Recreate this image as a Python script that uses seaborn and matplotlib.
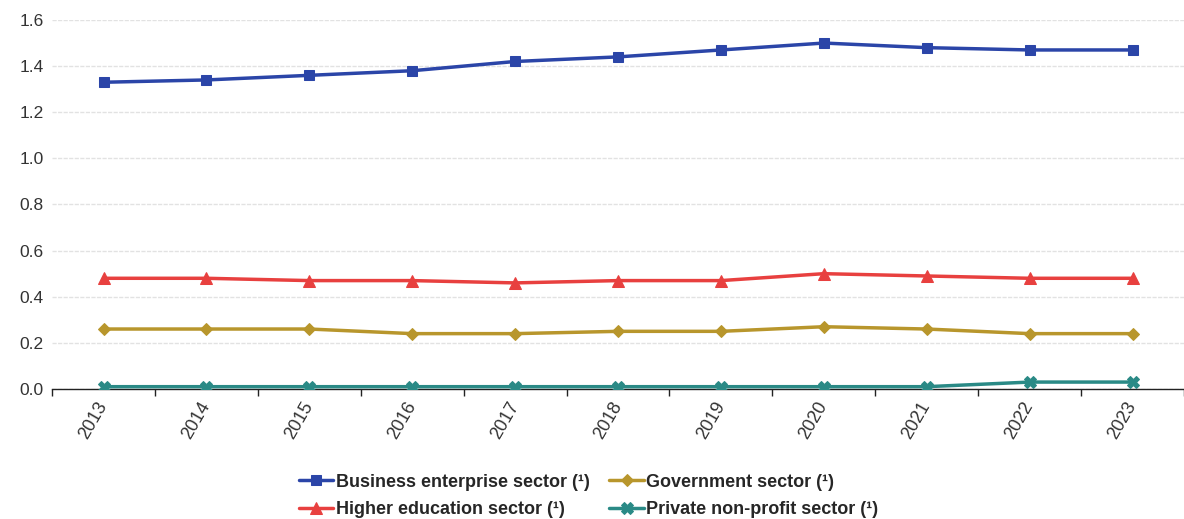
import matplotlib
matplotlib.use("Agg")
import matplotlib.pyplot as plt
import seaborn as sns
import pandas as pd
import numpy as np

years = ["2013", "2014", "2015", "2016", "2017", "2018", "2019", "2020", "2021", "2022", "2023"]
business = [1.33, 1.34, 1.36, 1.38, 1.42, 1.44, 1.47, 1.50, 1.48, 1.47, 1.47]
government = [0.26, 0.26, 0.26, 0.24, 0.24, 0.25, 0.25, 0.27, 0.26, 0.24, 0.24]
higher_ed = [0.48, 0.48, 0.47, 0.47, 0.46, 0.47, 0.47, 0.50, 0.49, 0.48, 0.48]
private_np = [0.01, 0.01, 0.01, 0.01, 0.01, 0.01, 0.01, 0.01, 0.01, 0.03, 0.03]
y_ticks = [0.0, 0.2, 0.4, 0.6, 0.8, 1.0, 1.2, 1.4, 1.6]

series = [
    ("Business enterprise sector (¹)", business, "#2b45a8", "s", 7),
    ("Government sector (¹)", government, "#b8962c", "D", 6),
    ("Higher education sector (¹)", higher_ed, "#e8403f", "^", 8),
    ("Private non-profit sector (¹)", private_np, "#2a8a86", "X", 8),
]

sns.set_theme(style="white")
plt.rcParams["font.family"] = ["Liberation Sans", "DejaVu Sans"]

fig = plt.figure(figsize=(11.84, 5.19), dpi=100)
ax = fig.add_axes([0.044, 0.2505, 0.956, 0.711])

x = np.arange(len(years))
for name, vals, color, marker, ms in series:
    df = pd.DataFrame({"x": x, "y": vals})
    sns.lineplot(data=df, x="x", y="y", ax=ax, color=color, marker=marker,
                 markersize=ms, markeredgecolor=color, linewidth=2.5,
                 label=name, zorder=3)

ax.set_xlim(-0.5, len(years) - 0.5)
ax.set_ylim(0, 1.6)
ax.set_yticks(y_ticks)
ax.set_yticklabels([f"{v:.1f}" for v in y_ticks], fontsize=12.5, color="#333333")
ax.set_xticks(x)
ax.set_xticklabels(years, rotation=60, fontsize=13, color="#333333",
                   ha="right", va="center", rotation_mode="anchor")
ax.set_xticks(np.arange(-0.5, len(years)), minor=True)
ax.tick_params(axis="x", which="major", length=0, pad=10)
ax.tick_params(axis="x", which="minor", length=5, width=1, color="#222222", bottom=True)
ax.tick_params(axis="y", length=0, pad=6)
ax.set_xlabel("")
ax.set_ylabel("")
ax.grid(axis="y", color="#e2e2e2", linewidth=1, linestyle=(0, (3, 1)))
ax.set_axisbelow(True)
for s in ["top", "right", "left"]:
    ax.spines[s].set_visible(False)
ax.spines["bottom"].set_color("#222222")
ax.spines["bottom"].set_linewidth(1)
ax.spines["bottom"].set_zorder(2)

handles, labels = ax.get_legend_handles_labels()
order = [0, 2, 1, 3]
ax.legend([handles[i] for i in order], [labels[i] for i in order], ncol=2,
          loc="upper center", bbox_to_anchor=(0.474, -0.185),
          frameon=False, prop={"weight": "bold", "size": 13},
          handlelength=1.9, handletextpad=0.15, columnspacing=1.1, labelspacing=0.6)

fig.savefig("out.png", dpi=100)
